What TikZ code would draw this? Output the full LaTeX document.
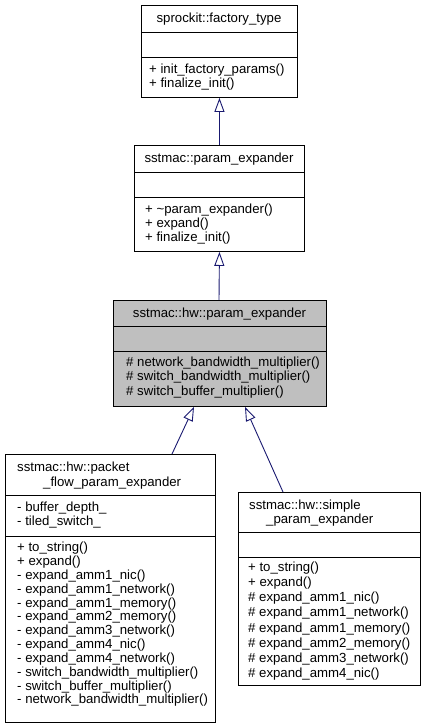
\documentclass[tikz,border=0pt]{standalone}
\usepackage{fontspec}
\setmainfont{Liberation Sans}
\usetikzlibrary{arrows.meta}
\definecolor{edgeblue}{HTML}{191970}
\definecolor{boxgray}{HTML}{BFBFBF}
\begin{document}
\begin{tikzpicture}[x=1pt,y=-1pt,
  cls/.style={draw=black, line width=0.9pt, fill=white, rectangle, inner sep=0pt, anchor=north west},
  sep/.style={draw=black, line width=0.9pt},
  txt/.style={inner sep=0pt, font=\fontsize{13.2}{15}\selectfont},
  inh/.style={draw=edgeblue, line width=0.9pt, -{Triangle[open,length=14pt,width=10pt]}}]
\useasboundingbox (0,0) rectangle (424,728);
% ---------- box 1
\node[cls, minimum width=156pt, minimum height=92pt] (b1) at (141,5) {};
\draw[sep] (b1.west |- 0,32) -- (b1.east |- 0,32);
\draw[sep] (b1.west |- 0,57) -- (b1.east |- 0,57);
\node[txt, anchor=base] (b1t) at (219,22.8) {sprockit::factory\_type};
\foreach \t [count=\i] in {+ init\_factory\_params(), + finalize\_init()}
  \node[txt, anchor=base west] (b1m\i) at (149,{69+4.3+(\i-1)*14}) {\t};
% ---------- box 2
\node[cls, minimum width=170pt, minimum height=106pt] (b2) at (134,145) {};
\draw[sep] (b2.west |- 0,172) -- (b2.east |- 0,172);
\draw[sep] (b2.west |- 0,197) -- (b2.east |- 0,197);
\node[txt, anchor=base] (b2t) at (219,162.8) {sstmac::param\_expander};
\foreach \t [count=\i] in {+ \textasciitilde param\_expander(), + expand(), + finalize\_init()}
  \node[txt, anchor=base west] (b2m\i) at (145,{209+4.3+(\i-1)*14}) {\t};
% ---------- box 3
\node[cls, fill=boxgray, minimum width=213pt, minimum height=106pt] (b3) at (113,300) {};
\draw[sep] (b3.west |- 0,326) -- (b3.east |- 0,326);
\draw[sep] (b3.west |- 0,351) -- (b3.east |- 0,351);
\node[txt, anchor=base] (b3t) at (219.5,317.3) {sstmac::hw::param\_expander};
\foreach \t [count=\i] in {\# network\_bandwidth\_multiplier(), \# switch\_bandwidth\_multiplier(), \# switch\_buffer\_multiplier()}
  \node[txt, anchor=base west] (b3m\i) at (126,{362+4.3+(\i-1)*14.5}) {\t};
% ---------- box 4
\node[cls, minimum width=210pt, minimum height=268pt] (b4) at (5,454) {};
\draw[sep] (b4.west |- 0,495) -- (b4.east |- 0,495);
\draw[sep] (b4.west |- 0,536) -- (b4.east |- 0,536);
\node[txt, anchor=base west] (b4t1) at (17,471.3) {sstmac::hw::packet};
\node[txt, anchor=base west] (b4t2) at (43,486.3) {\_flow\_param\_expander};
\foreach \t [count=\i] in {- buffer\_depth\_, - tiled\_switch\_}
  \node[txt, anchor=base west] (b4a\i) at (17,{507+4.3+(\i-1)*14}) {\t};
\foreach \t [count=\i] in {+ to\_string(), + expand(), - expand\_amm1\_nic(), - expand\_amm1\_network(),
  - expand\_amm1\_memory(), - expand\_amm2\_memory(), - expand\_amm3\_network(), - expand\_amm4\_nic(),
  - expand\_amm4\_network(), - switch\_bandwidth\_multiplier(), - switch\_buffer\_multiplier(),
  - network\_bandwidth\_multiplier()}
  \node[txt, anchor=base west] (b4m\i) at (17,{547.5+4.3+(\i-1)*13.83}) {\t};
% ---------- box 5
\node[cls, minimum width=182pt, minimum height=193pt] (b5) at (238,492) {};
\draw[sep] (b5.west |- 0,532) -- (b5.east |- 0,532);
\draw[sep] (b5.west |- 0,557) -- (b5.east |- 0,557);
\node[txt, anchor=base west] (b5t1) at (249,509.3) {sstmac::hw::simple};
\node[txt, anchor=base west] (b5t2) at (266,523.3) {\_param\_expander};
\foreach \t [count=\i] in {+ to\_string(), + expand(), \# expand\_amm1\_nic(), \# expand\_amm1\_network(),
  \# expand\_amm1\_memory(), \# expand\_amm2\_memory(), \# expand\_amm3\_network(), \# expand\_amm4\_nic()}
  \node[txt, anchor=base west] (b5m\i) at (248,{567.5+4.3+(\i-1)*15.05}) {\t};
% ---------- connectors
\draw[inh] (b2.north) -- (b1.south);
\draw[inh] (b3.north -| 219,0) -- (b2.south);
\draw[inh] (b4.north -| 172,0) -- (b3.south -| 194,0);
\draw[inh] (b5.north -| 283,0) -- (b3.south -| 245,0);
\end{tikzpicture}
\end{document}
